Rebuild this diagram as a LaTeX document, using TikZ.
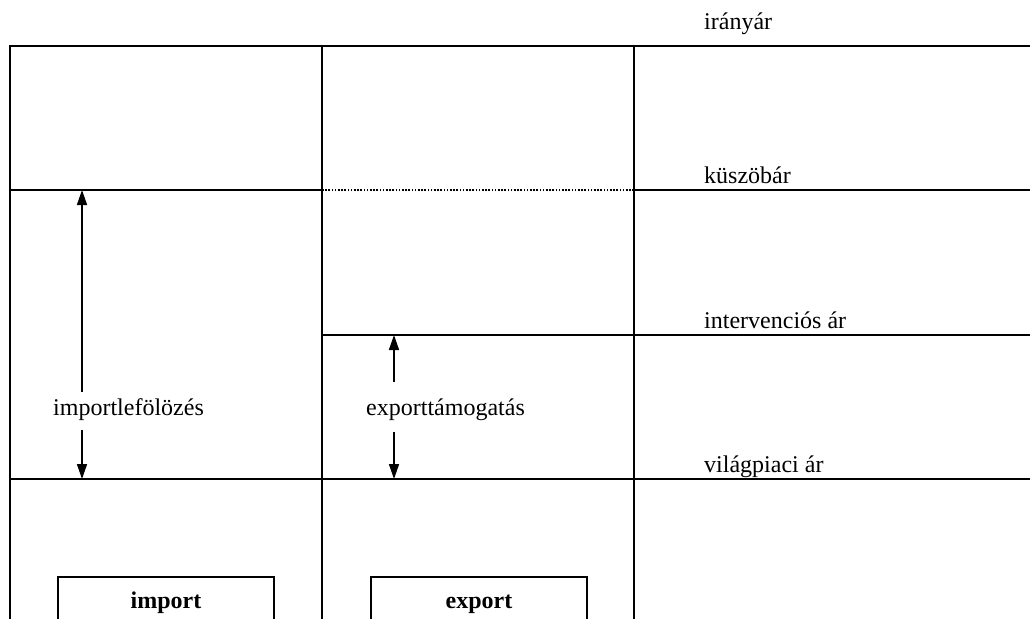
\documentclass[tikz,border=0pt]{standalone}
\usepackage{fontspec}
\setmainfont{Liberation Serif}
\usetikzlibrary{arrows.meta}
\tikzset{
  grid/.style={line width=2pt},
  dotline/.style={line width=1.6pt, dash pattern=on 1.6pt off 1.6pt},
  pricelabel/.style={anchor=base west, inner sep=0pt, font=\fontsize{24}{28}\selectfont},
  gaplabel/.style={anchor=base west, inner sep=0pt, font=\fontsize{24}{28}\selectfont},
  gaparrow/.style={line width=1.6pt, -{Triangle[length=15pt,width=10pt]}},
  tradebox/.style={draw, line width=2pt, minimum width=216pt, minimum height=80pt,
    anchor=north, inner sep=0pt},
  tradelabel/.style={anchor=base, inner sep=0pt, font=\fontsize{24}{28}\selectfont\bfseries},
}
\begin{document}
\begin{tikzpicture}[x=1pt,y=-1pt]
\useasboundingbox (0,0) rectangle (1030,618);
\clip (0,0) rectangle (1030,618);
\fill[white] (0,0) rectangle (1030,618);

% price levels
\coordinate (c1) at (322,190);
\coordinate (c2) at (634,190);
\draw[grid] (10,46) -- (1030,46);
\draw[grid] (10,190) -- (c1);
\draw[dotline] (c1) -- (c2);
\draw[grid] (c2) -- (1030,190);
\draw[grid] (322,335) -- (1030,335);
\draw[grid] (10,479) -- (1030,479);

% columns
\draw[grid] (10,45) -- (10,620);
\draw[grid] (322,45) -- (322,620);
\draw[grid] (634,45) -- (634,620);

% price labels
\node[pricelabel] (iranyar) at (704,30) {irányár};
\node[pricelabel] (kuszobar) at (704,183) {küszöbár};
\node[pricelabel] (interv) at (704,328) {intervenciós ár};
\node[pricelabel] (vilag) at (704,472) {világpiaci ár};

% import levy
\node[gaplabel] (levy) at (53,415) {importlefölözés};
\coordinate (levytop) at (82,190);
\coordinate (levybot) at (82,479);
\coordinate (levyup) at (82,392);
\coordinate (levydown) at (82,430);
\draw[gaparrow] (levyup) -- (levytop);
\draw[gaparrow] (levydown) -- (levybot);

% export subsidy
\node[gaplabel] (subsidy) at (366,415) {exporttámogatás};
\coordinate (subtop) at (394,335);
\coordinate (subbot) at (394,479);
\coordinate (subup) at (394,382);
\coordinate (subdown) at (394,432);
\draw[gaparrow] (subup) -- (subtop);
\draw[gaparrow] (subdown) -- (subbot);

% trade boxes, running on below the lower edge
\node[tradebox] (importbox) at (166,576) {};
\node[tradebox] (exportbox) at (479,576) {};
\node[tradelabel] (import) at (166,608) {import};
\node[tradelabel] (export) at (479,608) {export};
\end{tikzpicture}
\end{document}
